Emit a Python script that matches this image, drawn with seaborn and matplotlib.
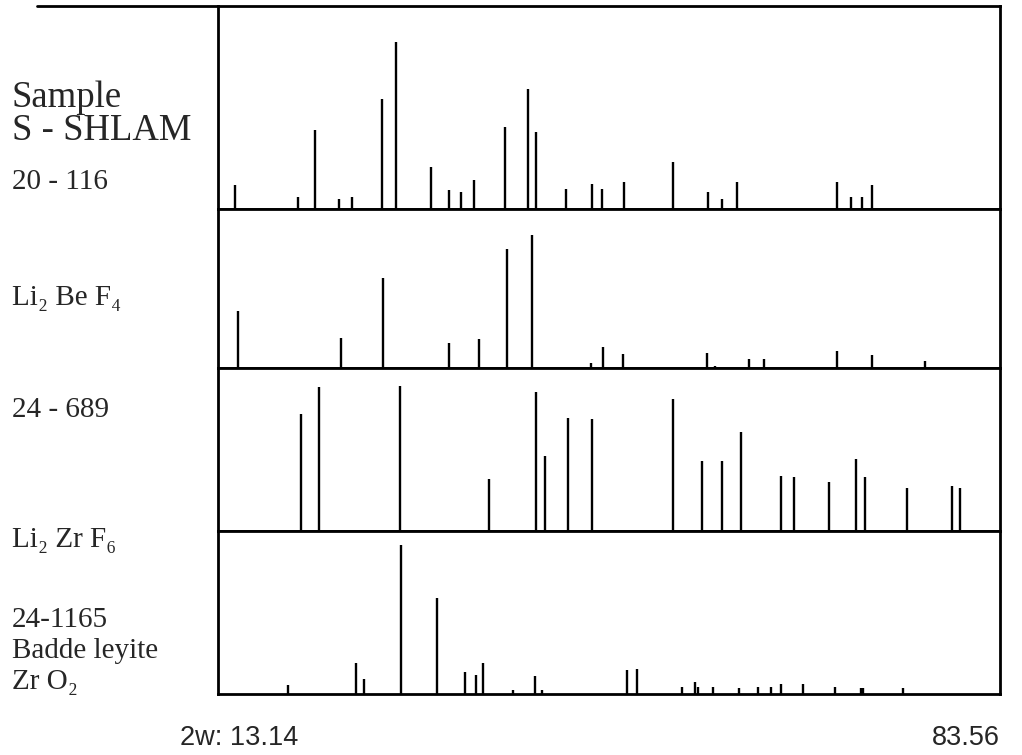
import matplotlib
matplotlib.use("Agg")
import matplotlib.pyplot as plt
from matplotlib.lines import Line2D
import seaborn as sns
import pandas as pd

# 2-theta range of the scan
two_theta_min = 13.14
two_theta_max = 83.56

# Sample S-SHLAM
sample_pos = [14.7, 20.3, 21.9, 24.0, 25.2, 27.9, 29.2, 32.3, 33.9, 35.0, 36.2,
              39.0, 41.1, 41.8, 44.5, 46.8, 47.7, 49.7, 54.1, 57.3, 58.5, 59.9,
              68.9, 70.1, 71.1, 72.0]
sample_int = [14, 7, 47, 6, 7, 66, 100, 25, 11, 10, 17,
              49, 72, 46, 12, 15, 12, 16, 28, 10, 6, 16,
              16, 7, 7, 14]

# 20-116 Li2BeF4
libef_pos = [14.9, 24.2, 28.0, 33.9, 36.6, 39.2, 41.4, 46.7, 47.8, 49.6, 57.2,
             57.9, 61.0, 62.3, 68.9, 72.0, 76.8]
libef_int = [43, 23, 68, 19, 22, 90, 100, 4, 16, 11, 12,
             2, 7, 7, 13, 10, 6]

# 24-689 Li2ZrF6
lizrf_pos = [20.6, 22.2, 29.5, 37.5, 41.8, 42.6, 44.7, 46.8, 54.1, 56.7, 58.5,
             60.2, 63.8, 65.0, 68.2, 70.6, 71.4, 75.2, 79.2, 80.0]
lizrf_int = [81, 99, 100, 36, 96, 52, 78, 77, 91, 48, 48,
             68, 38, 37, 34, 50, 37, 30, 31, 30]

# 24-1165 Baddeleyite ZrO2
zro2_pos = [19.4, 25.6, 26.3, 29.6, 32.9, 35.4, 36.4, 37.0, 39.7, 41.7, 42.3,
            50.0, 50.9, 54.9, 56.1, 56.4, 57.7, 60.1, 61.8, 62.9, 63.8, 65.8,
            68.7, 71.0, 71.2, 74.8]
zro2_int = [6, 21, 10, 100, 64, 15, 13, 21, 3, 12, 3,
            16, 17, 5, 8, 5, 5, 4, 5, 5, 7, 7,
            5, 4, 4, 4]

panels = [
    ("Sample", sample_pos, sample_int),
    ("20-116", libef_pos, libef_int),
    ("24-689", lizrf_pos, lizrf_int),
    ("24-1165", zro2_pos, zro2_int),
]

sns.set_style("white")
plt.rcParams['font.family'] = ['Liberation Serif', 'DejaVu Serif']

fig = plt.figure(figsize=(10.22, 7.55), dpi=100)
gs = fig.add_gridspec(4, 1, left=0.2133, right=0.9785, top=0.992, bottom=0.0808,
                      height_ratios=[203, 160, 163, 163], hspace=0)

# headroom above the tallest stick in each panel
tops = [121.6, 120, 112, 109]

for i, (name, pos, inten) in enumerate(panels):
    ax = fig.add_subplot(gs[i])
    df = pd.DataFrame({"two_theta": pos, "intensity": inten})
    ax.vlines(df["two_theta"], 0, df["intensity"], color="black", linewidth=1.7)
    ax.set_xlim(two_theta_min, two_theta_max)
    ax.set_ylim(0, tops[i])
    ax.set_xticks([])
    ax.set_yticks([])
    for s in ax.spines.values():
        s.set_visible(True)
        s.set_color("black")
        s.set_linewidth(2.0)

# the top rule runs on to the left over the label column
fig.add_artist(Line2D([37 / 1022, 0.2133], [0.992, 0.992], color="black",
                      linewidth=2.0, transform=fig.transFigure))

def label(y_px, text, size=21):
    fig.text(12 / 1022, 1 - y_px / 755, text, fontsize=size, va="center", ha="left")

label(98, "Sample", 26.5)
label(131, "S - SHLAM", 26.5)
label(182, "20 - 116")
label(298, "Li\u2082 Be F\u2084")
label(410, "24 - 689")
label(540, "Li\u2082 Zr F\u2086")
label(620, "24-1165")
label(651, "Badde leyite")
label(682, "Zr O\u2082")

fig.text(180 / 1022, 1 - 738 / 755, f"2w: {two_theta_min:.2f}", fontsize=19.5,
         family=["Liberation Sans", "DejaVu Sans"], va="center", ha="left")
fig.text(1000 / 1022, 1 - 738 / 755, f"{two_theta_max:.2f}", fontsize=19.5,
         family=["Liberation Sans", "DejaVu Sans"], va="center", ha="right")

fig.savefig("out.png", dpi=100)
